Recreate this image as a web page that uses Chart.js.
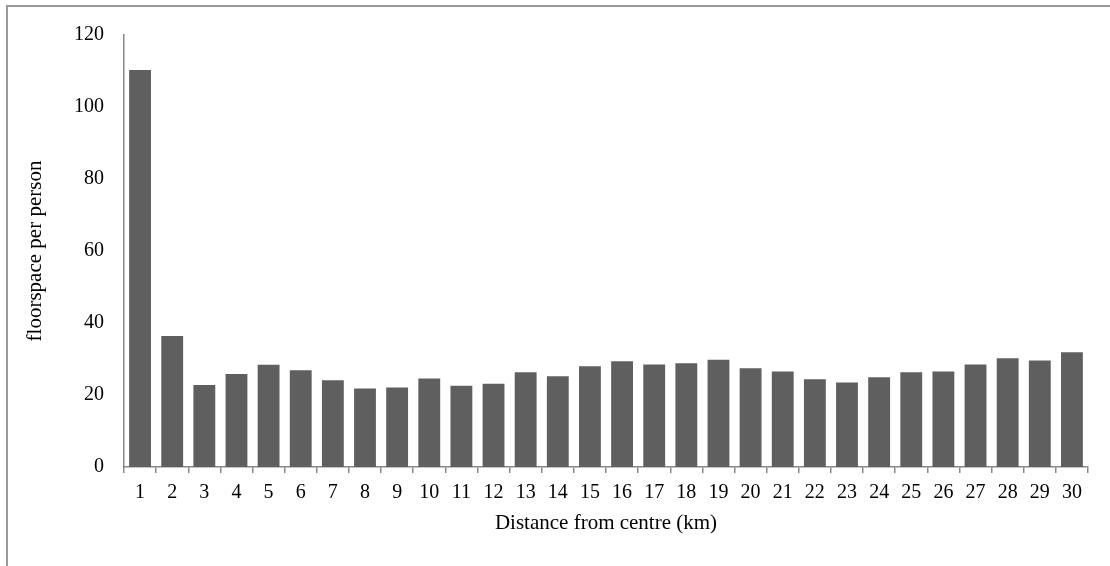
<!DOCTYPE html>
<html>
<head>
<meta charset="utf-8">
<script src="https://cdn.jsdelivr.net/npm/chart.js@4/dist/chart.umd.min.js"></script>
<style>
    body { margin: 0; background: #fff; }
    #wrap { position: relative; width: 1110px; height: 566px; overflow: hidden; }
    #frame { position: absolute; left: 6px; top: 5px; width: 1200px; height: 700px; border-left: 2px solid #999; border-top: 2px solid #999; }
    #chart { position: absolute; left: 0; top: 0; }
</style>
</head>
<body>
<div id="wrap">
    <div id="frame"></div>
    <canvas id="chart" width="1110" height="566"></canvas>
</div>
<script>
const distances = ['1', '2', '3', '4', '5', '6', '7', '8', '9', '10', '11', '12', '13', '14', '15',
    '16', '17', '18', '19', '20', '21', '22', '23', '24', '25', '26', '27', '28', '29', '30'];
const floorspace = [110.3, 36.4, 22.8, 25.8, 28.4, 26.9, 24.1, 21.8, 22.1, 24.6, 22.6, 23.1, 26.3, 25.2, 28.0,
    29.4, 28.5, 28.8, 29.8, 27.4, 26.5, 24.4, 23.5, 24.9, 26.3, 26.5, 28.5, 30.2, 29.6, 31.9];
const yTicks = [0, 20, 40, 60, 80, 100, 120];

const serif = 'Liberation Serif, Times New Roman, serif';

const ctx = document.getElementById('chart').getContext('2d');
new Chart(ctx, {
    type: 'bar',
    data: {
        labels: distances,
        datasets: [{
            label: 'floorspace per person',
            data: floorspace,
            backgroundColor: '#5f5f5f',
            borderWidth: 0,
            barPercentage: 0.68,
            categoryPercentage: 1
        }]
    },
    options: {
        responsive: false,
        animation: false,
        layout: { padding: { top: 35, right: 22, bottom: 0, left: 0 } },
        plugins: {
            legend: { display: false },
            tooltip: { enabled: false }
        },
        scales: {
            x: {
                grid: { display: true, drawOnChartArea: false, drawTicks: true, tickLength: 6, color: '#888', lineWidth: 1.5 },
                border: { display: true, color: '#888', width: 1.5 },
                ticks: { color: '#000', font: { family: serif, size: 20 }, padding: 8, maxRotation: 0, autoSkip: false },
                title: { display: true, text: 'Distance from centre (km)', color: '#000', font: { family: serif, size: 21 }, padding: { bottom: 30 } },
                afterFit: function (scale) { scale.height = 99; }
            },
            y: {
                min: 0,
                max: 120,
                afterBuildTicks: function (scale) { scale.ticks = yTicks.map(v => ({ value: v })); },
                grid: { display: false, drawTicks: false },
                border: { display: true, color: '#888', width: 1.5 },
                ticks: { color: '#000', font: { family: serif, size: 20 }, padding: 20 },
                title: { display: true, text: 'floorspace per person', color: '#000', font: { family: serif, size: 21 }, padding: { top: 23 } },
                afterFit: function (scale) { scale.width = 124; }
            }
        }
    }
});
</script>
</body>
</html>
